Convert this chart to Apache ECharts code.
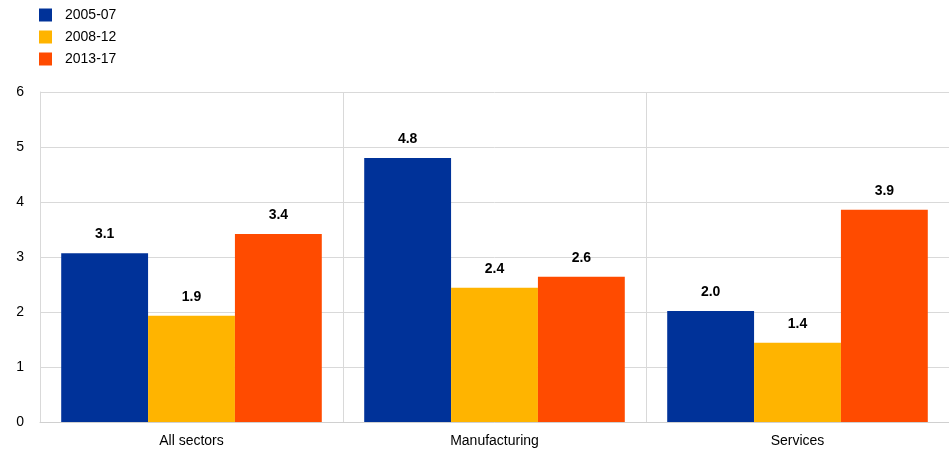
<!DOCTYPE html>
<html><head><meta charset="utf-8">
<script src="https://cdn.jsdelivr.net/npm/echarts@6/dist/echarts.min.js"></script>
<style>html,body{margin:0;padding:0;background:#fff}#c{width:949px;height:452px}</style>
</head><body><div id="c"></div>
<script>
const categories = ['All sectors', 'Manufacturing', 'Services'];
const seriesNames = ['2005-07', '2008-12', '2013-17'];
const s2005_07 = [3.07, 4.80, 2.02];
const s2008_12 = [1.93, 2.44, 1.44];
const s2013_17 = [3.42, 2.64, 3.86];
const yTicks = [0, 1, 2, 3, 4, 5, 6];
const colors = ['#003299', '#ffb400', '#ff4b00'];

const chart = echarts.init(document.getElementById('c'));
const font = 'Arial, "Liberation Sans", sans-serif';
const mk = (name, data, color) => ({
  name, type: 'bar', data, barGap: '0%', barCategoryGap: '14%',
  itemStyle: { color },
  label: { show: true, position: 'top', distance: 12, fontFamily: font, fontSize: 14, fontWeight: 'bold', color: '#000',
    formatter: p => p.value.toFixed(1) }
});
chart.setOption({
  animation: false,
  legend: {
    orient: 'vertical', left: 34, top: 3, itemWidth: 13, itemHeight: 13, itemGap: 8,
    textStyle: { fontFamily: font, fontSize: 14, color: '#000', padding: [0, 0, 0, 8] },
    data: seriesNames, icon: 'rect'
  },
  grid: { left: 40, right: -1, top: 92, bottom: 30, containLabel: false },
  xAxis: {
    type: 'category', data: categories,
    axisLine: { lineStyle: { color: '#d0d0d0', width: 1 } },
    axisTick: { show: false },
    splitLine: { show: true, lineStyle: { color: '#d9d9d9', width: 1 } },
    axisLabel: { fontFamily: font, fontSize: 14, color: '#000', margin: 12 }
  },
  yAxis: {
    type: 'value', min: 0, max: 6, interval: 1,
    axisLine: { show: true, lineStyle: { color: '#d9d9d9' } },
    axisTick: { show: false },
    splitLine: { lineStyle: { color: '#d9d9d9', width: 1 } },
    axisLabel: { fontFamily: font, fontSize: 14, color: '#000', margin: 16,
      formatter: v => yTicks.includes(v) ? String(v) : '' }
  },
  series: [mk(seriesNames[0], s2005_07, colors[0]), mk(seriesNames[1], s2008_12, colors[1]), mk(seriesNames[2], s2013_17, colors[2])]
});
</script></body></html>
